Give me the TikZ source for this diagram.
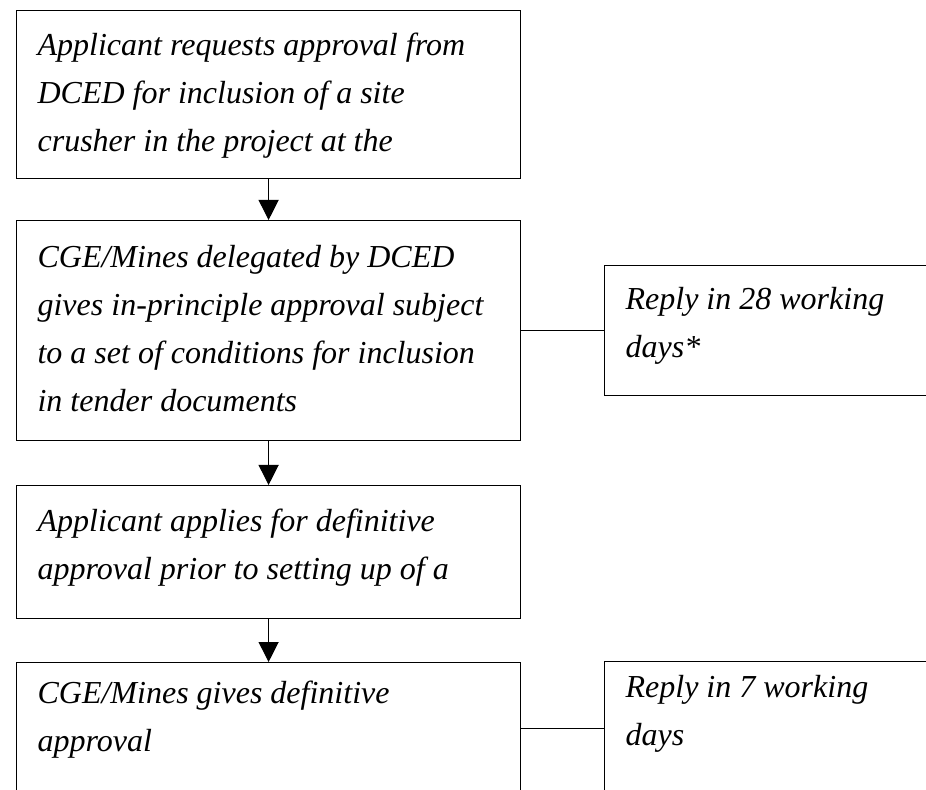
\documentclass[tikz,border=0pt]{standalone}
\usepackage{fontspec}
\setmainfont{Liberation Serif}
\usetikzlibrary{arrows.meta}
\tikzset{
  stepbox/.style={draw, line width=0.6pt, anchor=north west, inner xsep=10.5pt, inner ysep=0pt,
    font=\itshape\fontsize{16pt}{24pt}\selectfont},
  flow/.style={-{Triangle[length=10pt,width=10pt]}, line width=0.6pt},
}
\begin{document}
\begin{tikzpicture}[x=0.5pt, y=-0.5pt]
        \useasboundingbox (0,0) rectangle (926,790);
        \clip (0,0) rectangle (926,790);
        \node[stepbox] (S1) at (16, 10) {\parbox[t][84pt][t]{231pt}{\rule{0pt}{22.5pt}Applicant requests approval from\\DCED for inclusion of a site\\crusher in the project at the}};
        \node[stepbox] (S2) at (16, 220) {\parbox[t][110pt][t]{231pt}{\rule{0pt}{23.5pt}CGE/Mines delegated by DCED\\gives in-principle approval subject\\to a set of conditions for inclusion\\in tender documents}};
        \node[stepbox] (S3) at (16, 485) {\parbox[t][66.5pt][t]{231pt}{\rule{0pt}{23pt}Applicant applies for definitive\\approval prior to setting up of a}};
        \node[stepbox] (S4) at (16, 662) {\parbox[t][65.5pt][t]{231pt}{\rule{0pt}{20.5pt}CGE/Mines gives definitive\\approval}};
        \node[stepbox] (R1) at (604, 265) {\parbox[t][65pt][t]{152pt}{\rule{0pt}{22pt}Reply in 28 working\\days*}};
        \node[stepbox] (R2) at (604, 661) {\parbox[t][66.5pt][t]{152pt}{\rule{0pt}{18pt}Reply in 7 working\\days}};
        \path [flow] (S1) edge node {} (S2);
        \path [flow] (S2) edge node {} (S3);
        \path [flow] (S3) edge node {} (S4);
        \path [-, line width=0.6pt] (S2) edge node {} (R1);
        \path [-, line width=0.6pt] (S4) edge node {} (R2);
    \end{tikzpicture}
\end{document}
